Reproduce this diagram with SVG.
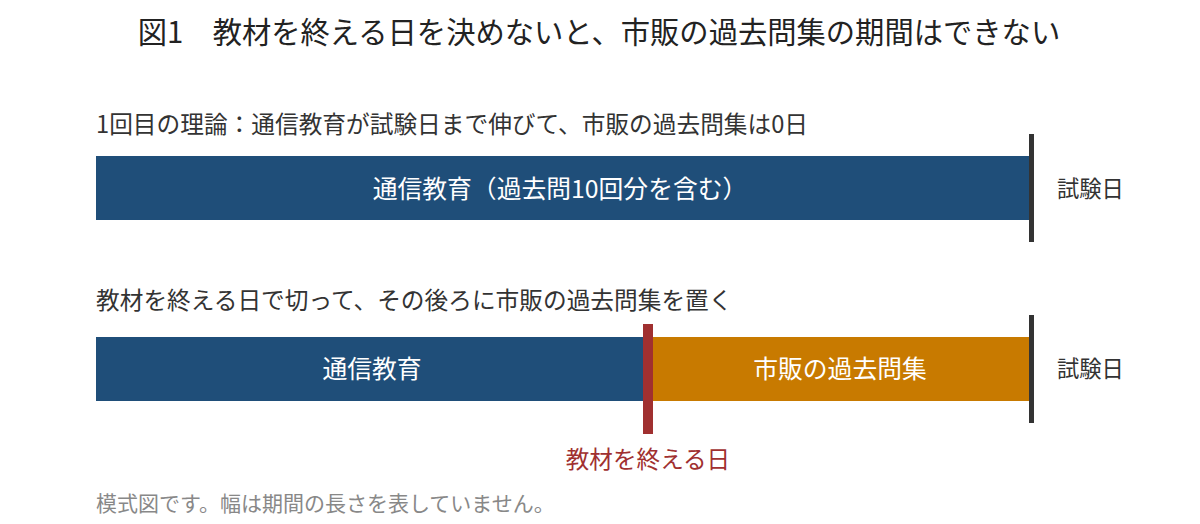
<svg xmlns="http://www.w3.org/2000/svg" width="1200" height="524" viewBox="0 0 1200 524">
<style>
text{font-family:"Noto Sans CJK JP","Noto Sans",sans-serif;dominant-baseline:central}
.title{font-size:29.3px;fill:#222;text-anchor:middle}
.sub{font-size:23.7px;fill:#333}
.lbl{font-size:24.8px;fill:#fff;text-anchor:middle}
.exam{font-size:22.3px;fill:#333}
.note{font-size:21px;fill:#888}
.navy{fill:#1f4e79}
.orange{fill:#c87a00}
.examline{fill:#333}
</style>
<rect width="1200" height="524" fill="#fff"/>
<text class="title" x="599" y="30">図1　教材を終える日を決めないと、市販の過去問集の期間はできない</text>
<text class="sub" x="96" y="123">1回目の理論：通信教育が試験日まで伸びて、市販の過去問集は0日</text>
<g id="bar1-tsushin">
<rect class="navy" x="96" y="156" width="934" height="64"/>
<text class="lbl" x="560" y="187">通信教育（過去問10回分を含む）</text>
</g>
<g id="exam1">
<rect class="examline" x="1029" y="134" width="5" height="108"/>
<text class="exam" x="1057" y="187">試験日</text>
</g>
<text class="sub" x="96" y="299">教材を終える日で切って、その後ろに市販の過去問集を置く</text>
<g id="bar2-tsushin">
<rect class="navy" x="96" y="337" width="552" height="64"/>
<text class="lbl" x="372" y="367">通信教育</text>
</g>
<g id="bar2-kakomon">
<rect class="orange" x="648" y="337" width="382" height="64"/>
<text class="lbl" x="840" y="367">市販の過去問集</text>
</g>
<g id="exam2">
<rect class="examline" x="1029" y="315" width="5" height="108"/>
<text class="exam" x="1057" y="367">試験日</text>
</g>
<g id="end-day">
<rect x="643" y="324" width="10" height="110" fill="#a03030"/>
<text x="648" y="458" font-size="23.6px" fill="#a03030" text-anchor="middle">教材を終える日</text>
</g>
<g id="connectors"></g>
<text class="note" x="96" y="502">模式図です。幅は期間の長さを表していません。</text>
</svg>
